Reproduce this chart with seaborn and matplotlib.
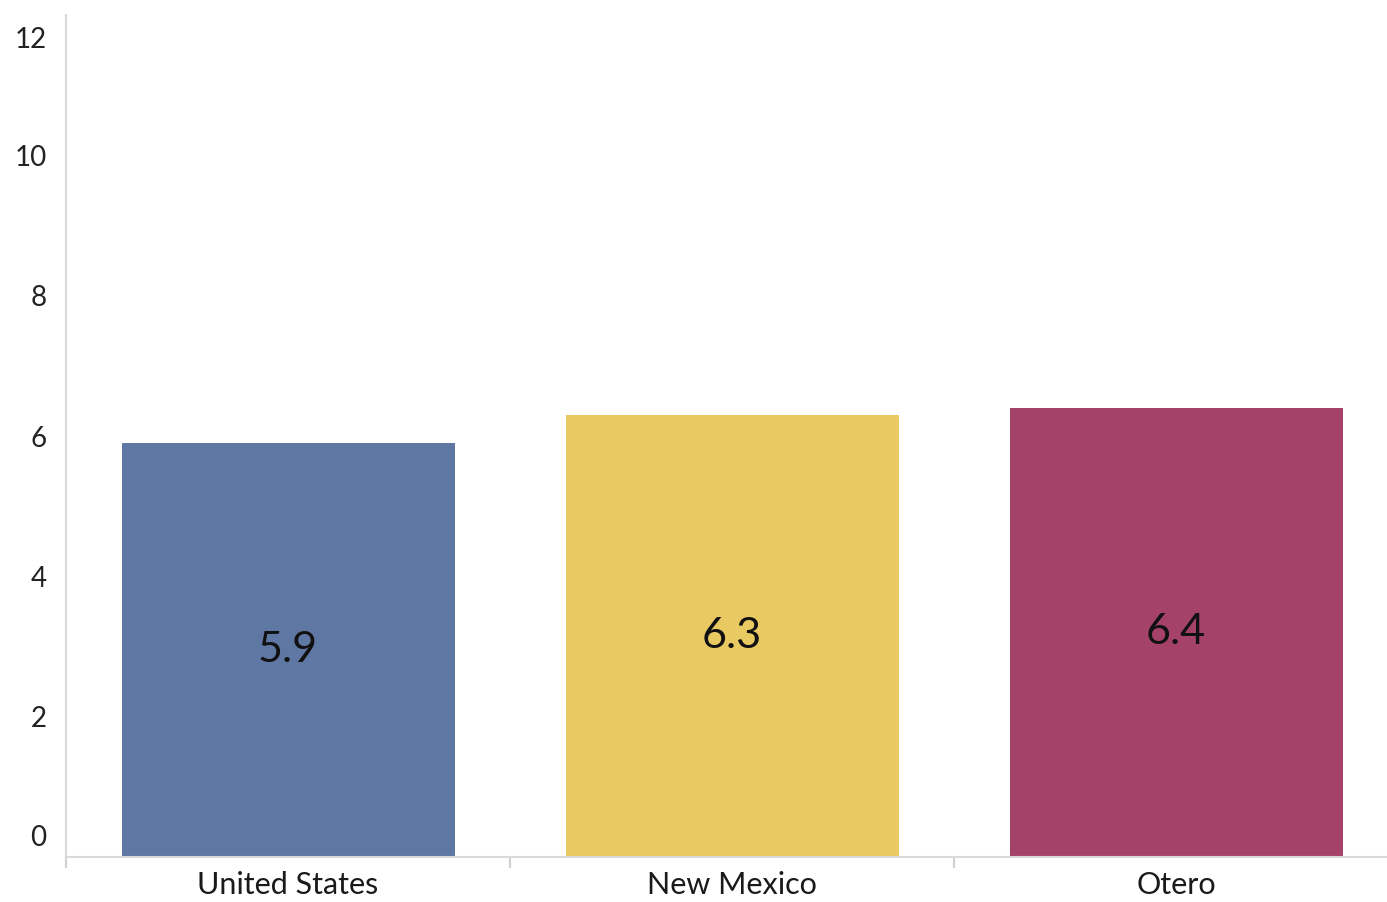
import matplotlib
matplotlib.use("Agg")
import matplotlib.pyplot as plt
import matplotlib.transforms as mtransforms
import seaborn as sns
import pandas as pd

categories = ["United States", "New Mexico", "Otero"]
values = [5.9, 6.3, 6.4]
colors = ["#5F77A3", "#E9C962", "#A5426A"]
yticks = [0, 2, 4, 6, 8, 10, 12]

sns.set_style("white")
plt.rcParams["font.family"] = ["Lato", "DejaVu Sans"]

fig = plt.figure(figsize=(13.87, 9.02), dpi=100)
ax = fig.add_axes([66 / 1387, 45 / 902, 1332 / 1387, 842 / 902])

df = pd.DataFrame({"cat": categories, "val": values})
sns.barplot(data=df, x="cat", y="val", hue="cat", palette=colors,
            width=0.75, legend=False, ax=ax, saturation=1, linewidth=0)

ax.set_xlim(-0.5, 2.5)
ax.set_ylim(0, 12)
ax.set_xlabel("")
ax.set_ylabel("")

for c in ax.containers:
    ax.bar_label(c, labels=[f"{v:.1f}" for v in c.datavalues], label_type="center",
                 fontsize=31, color="#111111")

ax.set_yticks(yticks)
ax.set_yticklabels([str(t) for t in yticks], fontsize=20, color="#222222")
ax.tick_params(axis="y", length=0, pad=14)
# Excel-like clamping of outer labels
for lbl, t in zip(ax.get_yticklabels(), yticks):
    if t == 0:
        lbl.set_transform(lbl.get_transform() + mtransforms.ScaledTranslation(0, 0.22, fig.dpi_scale_trans))
    elif t == 12:
        lbl.set_transform(lbl.get_transform() + mtransforms.ScaledTranslation(0, -0.22, fig.dpi_scale_trans))

ax.tick_params(axis="x", which="major", bottom=True, length=0, pad=10, labelsize=22, labelcolor="#1a1a1a")
ax.set_xticks([-0.5, 0.5, 1.5, 2.5], minor=True)
ax.tick_params(axis="x", which="minor", bottom=True, length=8, width=1.5, color="#d0d0d0")

for s in ["top", "right"]:
    ax.spines[s].set_visible(False)
for s in ["left", "bottom"]:
    ax.spines[s].set_color("#d9d9d9")
    ax.spines[s].set_linewidth(1.5)

fig.savefig("out.png", dpi=100)
